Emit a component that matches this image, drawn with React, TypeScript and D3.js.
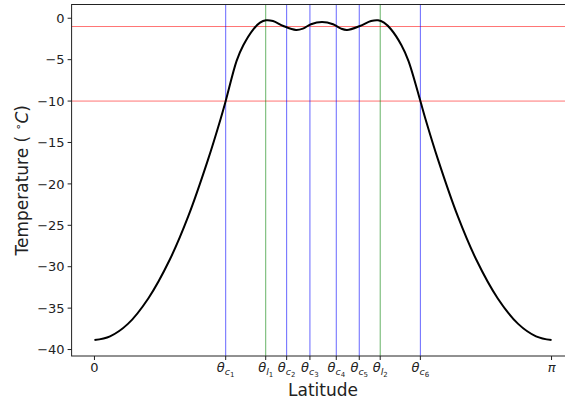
import React, { useRef, useEffect } from "react";
import * as d3 from "d3";

// latitude (rad) and temperature (°C)
const latitude = [
  0.0, 0.107, 0.230, 0.371, 0.519, 0.645, 0.780, 0.868, 0.902, 0.977,
  1.023, 1.092, 1.138, 1.179, 1.227, 1.298, 1.385, 1.433, 1.488, 1.564,
  1.640, 1.695, 1.736, 1.825, 1.901, 1.949, 1.990, 2.038, 2.110, 2.158,
  2.240, 2.274, 2.362, 2.497, 2.623, 2.771, 2.912, 3.035, 3.1416,
];
const temperature = [
  -38.85, -38.4, -36.9, -33.8, -29.1, -23.9, -17.1, -12.1, -10.0, -5.15,
  -3.26, -1.33, -0.53, -0.24, -0.33, -0.93, -1.41, -1.25, -0.72, -0.45,
  -0.72, -1.25, -1.41, -0.93, -0.33, -0.24, -0.53, -1.33, -3.26, -5.15,
  -10.0, -12.1, -17.1, -23.9, -29.1, -33.8, -36.9, -38.4, -38.85,
];

// threshold temperatures (red)
const thresholds = [-1, -10];

// special latitudes: c = blue, l = green
const markNames = ["c", "l", "c", "c", "c", "c", "l", "c"];
const markSubs = ["1", "1", "2", "3", "4", "5", "2", "6"];
const markValues = [0.902, 1.177, 1.321, 1.481, 1.662, 1.82, 1.964, 2.24];

const yTicks = [0, -5, -10, -15, -20, -25, -30, -35, -40];

const W = 565;
const H = 403;
const FONT = "DejaVu Sans, sans-serif";
const INK = "#222";

const App = () => {
  const ref = useRef<SVGSVGElement | null>(null);

  useEffect(() => {
    const svg = d3.select(ref.current);
    svg.selectAll("*").remove();

    const left = 71.6;
    const right = 574.4;
    const top = 4.5;
    const bottom = 356;

    const x = d3
      .scaleLinear()
      .domain([-Math.PI * 0.05, Math.PI * 1.05])
      .range([left, right]);
    const y = d3.scaleLinear().domain([-40.78, 1.66]).range([bottom, top]);

    const g = svg.append("g");

    // horizontal threshold lines
    g.selectAll(".hline")
      .data(thresholds)
      .join("line")
      .attr("x1", left)
      .attr("x2", right)
      .attr("y1", (d) => y(d))
      .attr("y2", (d) => y(d))
      .attr("stroke", "#ff0000")
      .attr("stroke-opacity", 0.55)
      .attr("stroke-width", 1);

    // vertical lines
    g.selectAll(".vline")
      .data(markValues)
      .join("line")
      .attr("x1", (d) => x(d))
      .attr("x2", (d) => x(d))
      .attr("y1", top)
      .attr("y2", bottom)
      .attr("stroke", (d, i) => (markNames[i] === "l" ? "#008000" : "#0000ff"))
      .attr("stroke-opacity", 0.6)
      .attr("stroke-width", 1);

    // curve
    const pts = latitude.map((d, i) => [d, temperature[i]] as [number, number]);
    const line = d3
      .line<[number, number]>()
      .x((d) => x(d[0]))
      .y((d) => y(d[1]))
      .curve(d3.curveCatmullRom.alpha(0.5));
    g.append("path")
      .datum(pts)
      .attr("d", line)
      .attr("fill", "none")
      .attr("stroke", "#000")
      .attr("stroke-width", 2);

    // spines
    g.append("rect")
      .attr("x", left)
      .attr("y", top)
      .attr("width", right - left)
      .attr("height", bottom - top)
      .attr("fill", "none")
      .attr("stroke", INK)
      .attr("stroke-width", 1);

    // y ticks
    const yt = g
      .selectAll(".ytick")
      .data(yTicks)
      .join("g")
      .attr("transform", (d) => `translate(${left},${y(d)})`);
    yt.append("line").attr("x1", -4).attr("x2", 0).attr("stroke", INK);
    yt.append("text")
      .attr("x", -7)
      .attr("dy", "0.36em")
      .attr("text-anchor", "end")
      .attr("font-family", FONT)
      .attr("font-size", 13)
      .attr("fill", INK)
      .text((d) => (d < 0 ? "\u2212" + Math.abs(d) : String(d)));

    // x ticks
    const xTicks = [0, ...markValues, Math.PI];
    const xt = g
      .selectAll(".xtick")
      .data(xTicks)
      .join("g")
      .attr("transform", (d) => `translate(${x(d)},${bottom})`);
    xt.append("line").attr("y1", 0).attr("y2", 4).attr("stroke", INK);

    xt.each(function (d, i) {
      const t = d3
        .select(this)
        .append("text")
        .attr("y", 16)
        .attr("text-anchor", "middle")
        .attr("font-family", FONT)
        .attr("font-size", 13)
        .attr("fill", INK);
      if (i === 0) {
        t.text("0");
      } else if (i === xTicks.length - 1) {
        t.append("tspan").attr("font-style", "italic").text("\u03c0");
      } else {
        const k = i - 1;
        t.append("tspan").attr("font-style", "italic").text("\u03b8");
        t.append("tspan")
          .attr("font-style", "italic")
          .attr("font-size", 9.5)
          .attr("dy", 3)
          .text(markNames[k]);
        t.append("tspan")
          .attr("font-size", 7)
          .attr("dy", 2)
          .text(markSubs[k]);
      }
    });

    // axis labels
    g.append("text")
      .attr("x", (left + right) / 2)
      .attr("y", 396)
      .attr("text-anchor", "middle")
      .attr("font-family", FONT)
      .attr("font-size", 17)
      .attr("fill", INK)
      .text("Latitude");

    const yl = g
      .append("text")
      .attr("transform", `translate(28,${(top + bottom) / 2}) rotate(-90)`)
      .attr("text-anchor", "middle")
      .attr("font-family", FONT)
      .attr("font-size", 17)
      .attr("fill", INK);
    yl.append("tspan").text("Temperature ( ");
    yl.append("tspan").attr("font-size", 11).attr("dy", -6).text("\u2218");
    yl.append("tspan").attr("font-style", "italic").attr("dy", 6).text("C");
    yl.append("tspan").text(")");
  }, []);

  return (
    <svg
      ref={ref}
      width={W}
      height={H}
      style={{ position: "absolute", left: 0, top: 0, background: "#fff" }}
    />
  );
};

export default App;
